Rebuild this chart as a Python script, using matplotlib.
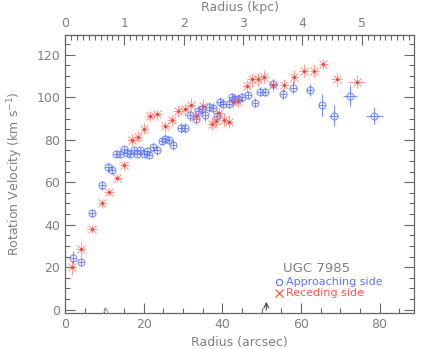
import numpy as np
import matplotlib
matplotlib.use("Agg")
import matplotlib.pyplot as plt
from matplotlib.ticker import MultipleLocator

# approaching side (blue circles)
app_r = [2.0, 4.0, 6.9, 9.5, 11.0, 12.0, 13.0, 14.0, 15.0, 15.9, 16.6, 17.5, 18.3, 19.1,
         20.0, 20.8, 21.3, 22.5, 23.3, 24.6, 25.5, 26.5, 27.5, 29.4, 30.5, 31.8, 33.3,
         33.9, 34.8, 35.6, 36.6, 37.7, 38.6, 39.3, 40.1, 41.6, 42.4, 43.0, 44.1, 45.0,
         46.6, 48.3, 49.6, 50.9, 53.0, 55.5, 58.1, 62.2, 65.3, 68.3, 72.5, 78.7]
app_v = [24.5, 22.5, 45.5, 58.5, 67.0, 66.0, 73.5, 73.5, 75.5, 74.0, 73.3, 75.0, 73.5, 75.0,
         73.5, 74.5, 73.0, 76.5, 75.0, 79.5, 80.5, 80.0, 77.5, 85.5, 85.5, 91.5, 90.0,
         93.5, 94.5, 91.5, 95.5, 95.0, 91.0, 98.0, 97.0, 97.0, 100.0, 99.0, 99.0, 100.0,
         101.0, 97.5, 102.7, 102.7, 106.2, 101.6, 104.6, 103.5, 96.4, 91.4, 100.7, 91.4]
app_ev = [3, 2, 2, 2, 2, 2, 1.5, 1.5, 1.5, 1.5, 1.5, 1.5, 1.5, 1.5,
          1.5, 1.5, 1.5, 2, 2, 2, 2, 2, 2.5, 2.5, 2.5, 2.5, 2.5,
          2.5, 2.5, 2.5, 2.5, 2.5, 2.5, 2, 2, 2, 2, 2, 2, 2,
          2, 2, 2, 2, 2.5, 2.5, 3, 3, 5, 5, 5, 4]
app_er = [0.8] * 48 + [0.9, 1.2, 1.7, 2.1]

# receding side (red crosses)
rec_r = [1.7, 4.1, 6.9, 9.5, 11.2, 13.3, 15.0, 17.0, 18.5, 20.2, 21.6, 23.4, 25.5, 27.1,
         28.7, 30.4, 32.0, 33.3, 35.0, 37.3, 38.3, 39.2, 40.5, 41.6, 42.8, 44.1, 46.2,
         47.5, 49.2, 50.6, 53.0, 55.7, 58.3, 60.8, 63.4, 65.7, 69.1, 74.2]
rec_v = [20.0, 28.5, 38.0, 50.0, 55.5, 62.0, 68.0, 80.0, 81.5, 85.2, 91.2, 92.0, 86.3, 89.2,
         93.5, 94.4, 96.5, 91.0, 96.0, 87.5, 89.0, 92.5, 89.5, 88.5, 98.0, 98.4, 105.3,
         108.5, 108.5, 109.8, 105.8, 105.8, 109.8, 112.6, 112.6, 115.7, 108.5, 107.4]
rec_ev = [3.5, 3.5, 2, 2, 2, 2, 2, 2.5, 2.5, 2.5, 2.5, 2.5, 2.5, 2.5,
          3, 3, 3, 3, 3, 3, 3, 3, 3, 3, 3, 3, 3,
          3, 3, 3, 3, 3, 3, 3, 3, 2.5, 3, 3]
rec_er = [1.2] * 36 + [1.4, 2.2]

arcsec_per_kpc = 15.09
blue = "#5a78ff"
red = "#ff5848"
grey = "#808080"

plt.rcParams["font.family"] = "DejaVu Sans"
plt.rcParams["font.size"] = 9

fig = plt.figure(figsize=(4.36, 3.49), dpi=100)
ax = fig.add_axes([0.149, 0.103, 0.801, 0.797])

ax.errorbar(app_r, app_v, yerr=app_ev, xerr=app_er, fmt="o", mfc="none", mec=blue,
            ms=5, mew=0.8, ecolor=blue, elinewidth=0.8, capsize=0, alpha=0.8)
ax.errorbar(rec_r, rec_v, yerr=rec_ev, xerr=rec_er, fmt="x", mec=red, ms=6, mew=0.8,
            ecolor=red, elinewidth=0.8, capsize=0, alpha=0.6)
ax.plot(rec_r, rec_v, ".", color="#e83a28", ms=2.5)

ax.set_xlim(0, 88.8)
ax.set_ylim(-1.6, 129.4)
ax.xaxis.set_major_locator(MultipleLocator(20))
ax.xaxis.set_minor_locator(MultipleLocator(5))
ax.yaxis.set_major_locator(MultipleLocator(20))
ax.yaxis.set_minor_locator(MultipleLocator(5))
ax.tick_params(which="both", direction="in", right=True, top=False, colors="#666666",
               labelcolor=grey)
ax.tick_params(which="major", length=7, width=0.8)
ax.tick_params(which="minor", length=3.5, width=0.8)
for s in ax.spines.values():
    s.set_color("#666666")
    s.set_linewidth(0.9)

ax.set_xlabel("Radius (arcsec)", color=grey)
ax.set_ylabel("Rotation Velocity (km s$^{-1}$)", color=grey, labelpad=8)

top = ax.secondary_xaxis("top", functions=(lambda r: r / arcsec_per_kpc,
                                           lambda k: k * arcsec_per_kpc))
top.xaxis.set_major_locator(MultipleLocator(1))
top.xaxis.set_minor_locator(MultipleLocator(0.1))
top.tick_params(which="both", direction="in", colors="#666666", labelcolor=grey)
top.tick_params(which="major", length=7, width=0.8)
top.tick_params(which="minor", length=3.5, width=0.8)
top.set_xlabel("Radius (kpc)", color=grey)
top.spines["top"].set_color("#666666")

# arrows at the bottom
ax.annotate("", xy=(10.4, 2.6), xytext=(10.4, -1.6),
            arrowprops=dict(arrowstyle="->", color="#aaaaaa", lw=0.8))
ax.annotate("", xy=(51.2, 5.0), xytext=(51.2, -1.6),
            arrowprops=dict(arrowstyle="->", color="#444444", lw=0.8))

# legend
ax.text(64.1, 19.4, "UGC 7985", color=grey, ha="center", va="center", fontsize=9.5)
ax.plot([54.5], [13.1], "o", mfc="none", mec=blue, ms=4.5, mew=0.8)
ax.text(56.3, 13.1, "Approaching side", color=blue, va="center", fontsize=8)
ax.plot([54.5], [7.9], "x", color=red, ms=6, mew=0.9)
ax.text(56.3, 7.9, "Receding side", color=red, va="center", fontsize=8)

fig.savefig("out.png", dpi=100)
